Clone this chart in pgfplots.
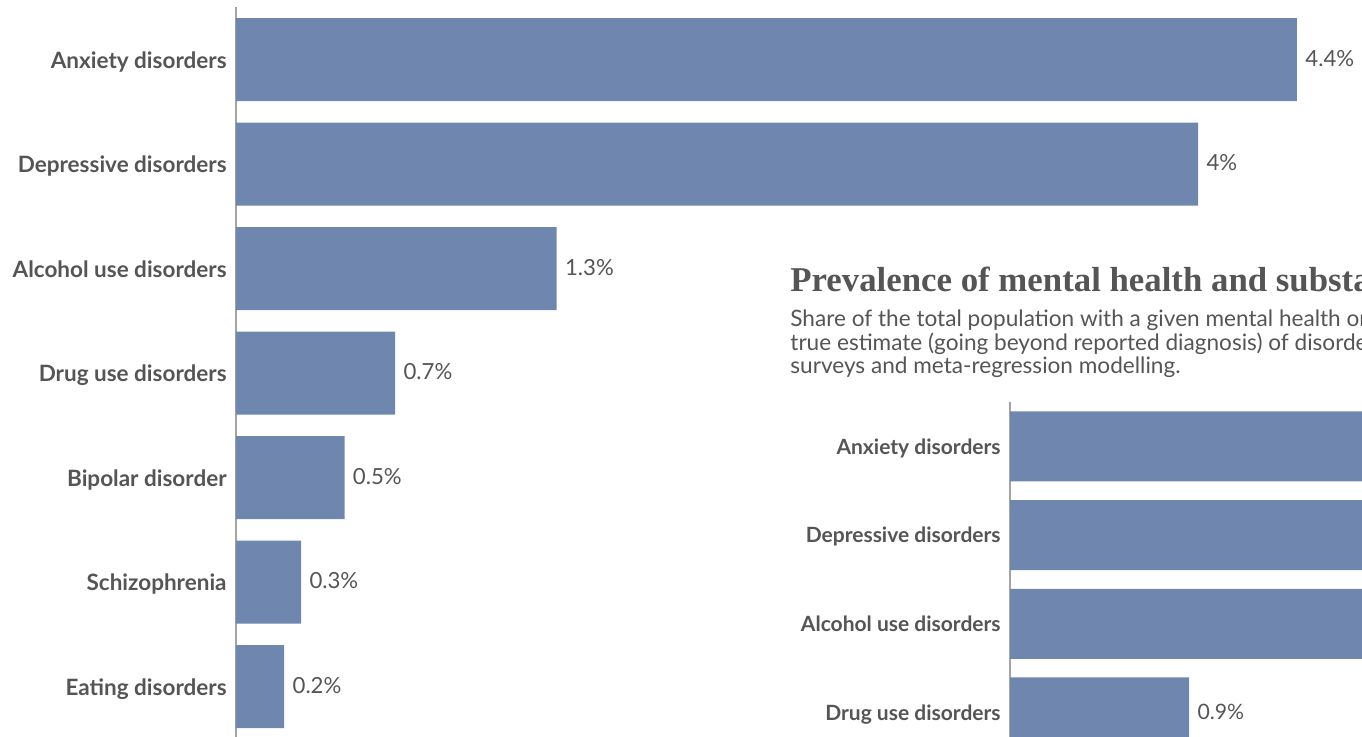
\documentclass[border=0pt]{standalone}
\usepackage{pgfplots}
\pgfplotsset{compat=1.18}
\usepackage{fontspec}
\setmainfont{Lato}
\newfontfamily\titlefont{Liberation Serif}
\definecolor{barblue}{HTML}{6F87AE}
\definecolor{txt}{HTML}{555555}
\definecolor{axgray}{HTML}{A3A3A3}
\begin{document}
\begin{tikzpicture}[x=1pt,y=1pt]
\useasboundingbox (0,0) rectangle (681,-368);
\begin{scope}
\clip (0,0) rectangle (681,-368);
% main chart
\begin{axis}[
  at={(118pt,-3.625pt)}, anchor=north west,
  scale only axis, width=530.5pt, height=370.975pt,
  xmin=0, xmax=4.4, ymin=-0.5, ymax=6.6, y dir=reverse,
  xbar, bar width=41.5pt,
  axis x line=none, axis y line*=left,
  axis line style={axgray, line width=0.7pt},
  ytick={0,...,6},
  yticklabels={Anxiety disorders,Depressive disorders,Alcohol use disorders,Drug use disorders,Bipolar disorder,Schizophrenia,Eating disorders},
  y tick label style={font=\bfseries\fontsize{11.25}{13}\selectfont, text=txt, inner sep=0pt, anchor=base east, xshift=-4.5pt, yshift=-4.3pt},
  major tick length=0pt,
  clip=false,
  point meta=explicit symbolic,
  nodes near coords,
  nodes near coords style={font=\fontsize{11.1}{13}\selectfont, text=txt, anchor=base west, inner sep=0pt, xshift=4pt, yshift=-3.3pt},
]
\addplot[fill=barblue, draw=none] coordinates {
  (4.40,0) [4.4\%]
  (3.99,1) [4\%]
  (1.33,2) [1.3\%]
  (0.66,3) [0.7\%]
  (0.45,4) [0.5\%]
  (0.27,5) [0.3\%]
  (0.20,6) [0.2\%]
};
\end{axis}
% inset chart
\node[anchor=base west, inner sep=0pt, text=txt] at (395,-145.9)
  {\titlefont\bfseries\fontsize{17.4}{20}\selectfont Prevalence of mental health and substance use disorders};
\node[anchor=base west, inner sep=0pt, text=txt] at (395,-163.2)
  {\fontsize{11.3}{13}\selectfont Share of the total population with a given mental health or substance use disorder. Figures attempt to provide a};
\node[anchor=base west, inner sep=0pt, text=txt] at (395,-175.0)
  {\fontsize{11.3}{13}\selectfont true estimate (going beyond reported diagnosis) of disorder prevalence based on medical, epidemiological data,};
\node[anchor=base west, inner sep=0pt, text=txt] at (395,-186.8)
  {\fontsize{11.3}{13}\selectfont surveys and meta-regression modelling.};
\begin{axis}[
  at={(505pt,-201pt)}, anchor=north west,
  scale only axis, width=398pt, height=195.14pt,
  xmin=0, xmax=4, ymin=-0.5, ymax=3.9, y dir=reverse,
  xbar, bar width=35pt,
  axis x line=none, axis y line*=left,
  axis line style={axgray, line width=0.7pt},
  ytick={0,...,3},
  yticklabels={Anxiety disorders,Depressive disorders,Alcohol use disorders,Drug use disorders},
  y tick label style={font=\bfseries\fontsize{10.5}{12}\selectfont, text=txt, inner sep=0pt, anchor=base east, xshift=-4.5pt, yshift=-3.9pt},
  major tick length=0pt,
  clip=false,
  point meta=explicit symbolic,
  nodes near coords,
  nodes near coords style={font=\fontsize{10.6}{12}\selectfont, text=txt, anchor=base west, inner sep=0pt, xshift=4pt, yshift=-3.3pt},
]
\addplot[fill=barblue, draw=none] coordinates {
  (4.1,0) [4.1\%]
  (3.6,1) [3.6\%]
  (2.2,2) [2.2\%]
  (0.9,3) [0.9\%]
};
\end{axis}
\end{scope}
\end{tikzpicture}
\end{document}
